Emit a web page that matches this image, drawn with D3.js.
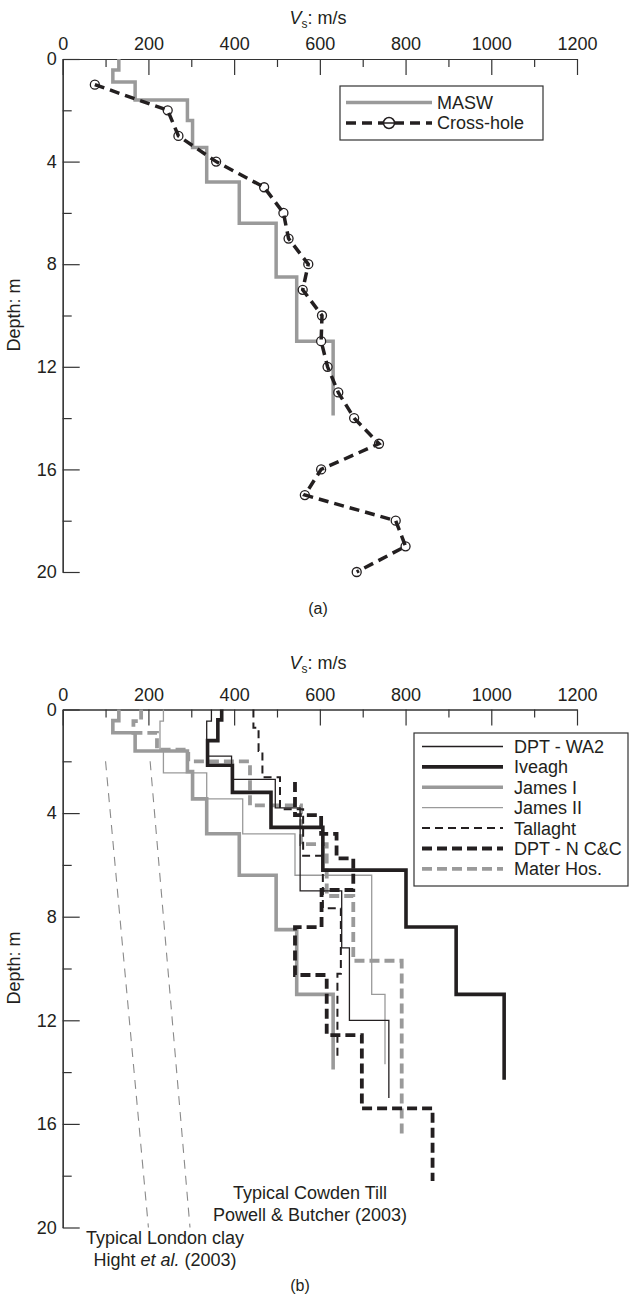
<!DOCTYPE html>
<html>
<head>
<meta charset="utf-8">
<script src="https://cdn.jsdelivr.net/npm/d3@7"></script>
<style>
  body { margin: 0; background: #fff; }
  svg { display: block; }
  text { font-family: 'Liberation Sans', Arial, Helvetica, sans-serif; fill: #231f20; }
</style>
</head>
<body>
<svg width="631" height="1296"></svg>
<script>
// ---- data, panel (a) ----
const maswV = [131, 117, 169, 291, 303, 336, 412, 498, 546, 631]
const maswD = [0, 0.43, 0.9, 1.6, 2.4, 3.45, 4.8, 6.4, 8.5, 11.0, 13.9]
const crossD = [1, 2, 3, 4, 5, 6, 7, 8, 9, 10, 11, 12, 13, 14, 15, 16, 17, 18, 19, 20]
const crossV = [75, 245, 270, 358, 470, 515, 527, 573, 560, 605, 603, 618, 643, 680, 738, 603, 565, 777, 800, 686]

// ---- data, panel (b) ----
const wa2V = [347, 336, 394, 496, 554, 651, 669, 761]
const wa2D = [0, 0.45, 1.8, 2.7, 3.8, 7.0, 9.2, 12.0, 15.0]
const iveaghV = [371, 362, 338, 396, 486, 607, 801, 918, 1030]
const iveaghD = [0, 0.4, 1.2, 2.15, 3.2, 4.55, 6.2, 8.4, 11.0, 14.3]
const jamesIV = maswV
const jamesID = maswD
const jamesIIV = [235, 227, 235, 336, 420, 542, 721, 752]
const jamesIID = [0, 0.45, 1.6, 2.45, 3.45, 4.8, 6.4, 11.0, 13.7]
const tallaghtV = [445, 457, 466, 507, 561, 607, 649, 641]
const tallaghtD = [0, 0.7, 1.6, 2.62, 3.85, 5.65, 7.67, 10.2, 13.45]
const dptnV = [542, 603, 639, 678, 604, 542, 616, 698, 863]
const dptnD = [2.8, 4.08, 4.8, 5.75, 6.97, 8.4, 10.25, 12.57, 15.4, 18.2]
const materV = [183, 165, 220, 293, 437, 556, 616, 678, 791]
const materD = [0, 0.45, 0.9, 1.55, 2.0, 3.7, 5.2, 7.2, 9.7, 16.4]

// typical profiles (straight guide lines)
const guideD = [2, 20]
const londonV = [100, 200]
const cowdenV = [204, 297]

const xTicks = [0, 200, 400, 600, 800, 1000, 1200]
const xMinor = [100, 300, 500, 700, 900, 1100]
const yTicks = [0, 4, 8, 12, 16, 20]
const yMinor = [2, 6, 10, 14, 18]

const gray = "#9a9a9a", black = "#231f20"

var svg = d3.select("svg")

var x = d3.scaleLinear().domain([0, 1200]).range([62.7, 577])
var yA = d3.scaleLinear().domain([0, 20]).range([59, 572])
var yB = d3.scaleLinear().domain([0, 20]).range([709.5, 1227.5])

// build step profile: each layer velocity held between two depths
function steps(vals, depths) {
  let pts = []
  vals.forEach(function(v, i) {
    pts.push([v, depths[i]])
    pts.push([v, depths[i + 1]])
  })
  return pts
}

function drawAxes(y, midY, titleY) {
  let g = svg.append("g")
  g.append("g").attr("transform", "translate(0," + y(0) + ")")
    .call(d3.axisTop(x).tickValues(xTicks).tickFormat(d3.format("d"))
      .tickSize(-16).tickSizeOuter(0).tickPadding(9))
  g.append("g").attr("transform", "translate(0," + y(0) + ")")
    .call(d3.axisTop(x).tickValues(xMinor).tickSize(-8).tickSizeOuter(0).tickFormat(""))
  g.append("g").attr("transform", "translate(" + x(0) + ",0)")
    .call(d3.axisLeft(y).tickValues(yTicks).tickSize(-17).tickSizeOuter(0).tickPadding(6))
  g.append("g").attr("transform", "translate(" + x(0) + ",0)")
    .call(d3.axisLeft(y).tickValues(yMinor).tickSize(-9).tickSizeOuter(0).tickFormat(""))
  g.selectAll(".domain, .tick line").attr("stroke", "#333").attr("stroke-width", 1.2)
  g.selectAll(".tick text").attr("font-size", 18).attr("fill", black)
    .style("font-family", "'Liberation Sans', Arial, sans-serif")

  let t = svg.append("text").attr("x", 318).attr("y", titleY)
    .attr("text-anchor", "middle").attr("font-size", 18)
  t.append("tspan").attr("font-style", "italic").text("V")
  t.append("tspan").attr("font-size", 12).attr("dy", 4).text("s")
  t.append("tspan").attr("dy", -4).text(": m/s")

  svg.append("text")
    .attr("transform", "translate(20," + midY + ") rotate(-90)")
    .attr("text-anchor", "middle").attr("font-size", 18).text("Depth: m")
}

// ---------- panel (a) ----------
drawAxes(yA, 315, 24)

var lineA = d3.line().x(function(d){ return x(d[0]) }).y(function(d){ return yA(d[1]) })

svg.append("path")
  .attr("d", lineA(steps(maswV, maswD)))
  .attr("fill", "none").attr("stroke", gray).attr("stroke-width", 3.5)

var cross = crossD.map(function(d, i){ return [crossV[i], d] })

svg.append("g").selectAll("circle")
  .data(cross).enter().append("circle")
    .attr("cx", function(d){ return x(d[0]) })
    .attr("cy", function(d){ return yA(d[1]) })
    .attr("r", 4.5)
    .attr("fill", "#fff").attr("stroke", black).attr("stroke-width", 1.3)

svg.append("path")
  .attr("d", lineA(cross))
  .attr("fill", "none").attr("stroke", black).attr("stroke-width", 3.5)
  .attr("stroke-dasharray", "10,6")

// legend (a)
var legA = svg.append("g")
legA.append("rect").attr("x", 340).attr("y", 86).attr("width", 203).attr("height", 54)
  .attr("fill", "#fff").attr("stroke", "#333").attr("stroke-width", 1.2)
legA.append("line").attr("x1", 346).attr("x2", 432).attr("y1", 102.5).attr("y2", 102.5)
  .attr("stroke", gray).attr("stroke-width", 3.5)
legA.append("line").attr("x1", 346).attr("x2", 432).attr("y1", 123).attr("y2", 123)
  .attr("stroke", black).attr("stroke-width", 3.5).attr("stroke-dasharray", "10,6")
legA.append("circle").attr("cx", 389).attr("cy", 123).attr("r", 5.5)
  .attr("fill", "#fff").attr("stroke", black).attr("stroke-width", 1.5)
legA.append("line").attr("x1", 384).attr("x2", 394).attr("y1", 123).attr("y2", 123)
  .attr("stroke", black).attr("stroke-width", 1.5)
legA.append("text").attr("x", 437).attr("y", 109).attr("font-size", 18).text("MASW")
legA.append("text").attr("x", 437).attr("y", 129).attr("font-size", 18).text("Cross-hole")

svg.append("text").attr("x", 318).attr("y", 614).attr("text-anchor", "middle")
  .attr("font-size", 16).text("(a)")

// ---------- panel (b) ----------
drawAxes(yB, 968, 669)

var lineB = d3.line().x(function(d){ return x(d[0]) }).y(function(d){ return yB(d[1]) })

// typical profiles
;[londonV, cowdenV].forEach(function(vals){
  svg.append("path")
    .attr("d", lineB(guideD.map(function(d, i){ return [vals[i], d] })))
    .attr("fill", "none").attr("stroke", "#8a8a8a").attr("stroke-width", 1.1)
    .attr("stroke-dasharray", "9,7")
})

var seriesB = [
  { name: "DPT - WA2",   v: wa2V,      d: wa2D,      color: black, width: 1.3, dash: null },
  { name: "Iveagh",      v: iveaghV,   d: iveaghD,   color: black, width: 3.6, dash: null },
  { name: "James I",     v: jamesIV,   d: jamesID,   color: gray,  width: 3.6, dash: null },
  { name: "James II",    v: jamesIIV,  d: jamesIID,  color: gray,  width: 1.3, dash: null },
  { name: "Tallaght",    v: tallaghtV, d: tallaghtD, color: black, width: 2.0, dash: "8,5" },
  { name: "DPT - N C&C", v: dptnV,     d: dptnD,     color: black, width: 3.8, dash: "10,5" },
  { name: "Mater Hos.",  v: materV,    d: materD,    color: gray,  width: 3.8, dash: "10,5" }
]

var drawOrder = [3, 2, 6, 0, 4, 5, 1]
drawOrder.forEach(function(k){
  let s = seriesB[k]
  svg.append("path")
    .attr("d", lineB(steps(s.v, s.d)))
    .attr("fill", "none").attr("stroke", s.color).attr("stroke-width", s.width)
    .attr("stroke-dasharray", s.dash)
})

// legend (b)
var legB = svg.append("g")
legB.append("rect").attr("x", 414).attr("y", 733).attr("width", 214).attr("height", 153)
  .attr("fill", "#fff").attr("stroke", "#333").attr("stroke-width", 1.2)
seriesB.forEach(function(s, i){
  let yy = 746.5 + i * 20.4
  legB.append("line").attr("x1", 422).attr("x2", 503).attr("y1", yy).attr("y2", yy)
    .attr("stroke", s.color).attr("stroke-width", s.width).attr("stroke-dasharray", s.dash)
  legB.append("text").attr("x", 514).attr("y", yy + 6.5).attr("font-size", 18).text(s.name)
})

// annotations
svg.append("text").attr("x", 310).attr("y", 1199).attr("text-anchor", "middle")
  .attr("font-size", 18).text("Typical Cowden Till")
svg.append("text").attr("x", 310).attr("y", 1221).attr("text-anchor", "middle")
  .attr("font-size", 18).text("Powell & Butcher (2003)")
svg.append("text").attr("x", 165).attr("y", 1244).attr("text-anchor", "middle")
  .attr("font-size", 18).text("Typical London clay")
var hight = svg.append("text").attr("x", 165).attr("y", 1266).attr("text-anchor", "middle")
  .attr("font-size", 18)
hight.append("tspan").text("Hight ")
hight.append("tspan").attr("font-style", "italic").text("et al.")
hight.append("tspan").text(" (2003)")

svg.append("text").attr("x", 300).attr("y", 1291).attr("text-anchor", "middle")
  .attr("font-size", 16).text("(b)")
</script>
</body>
</html>
